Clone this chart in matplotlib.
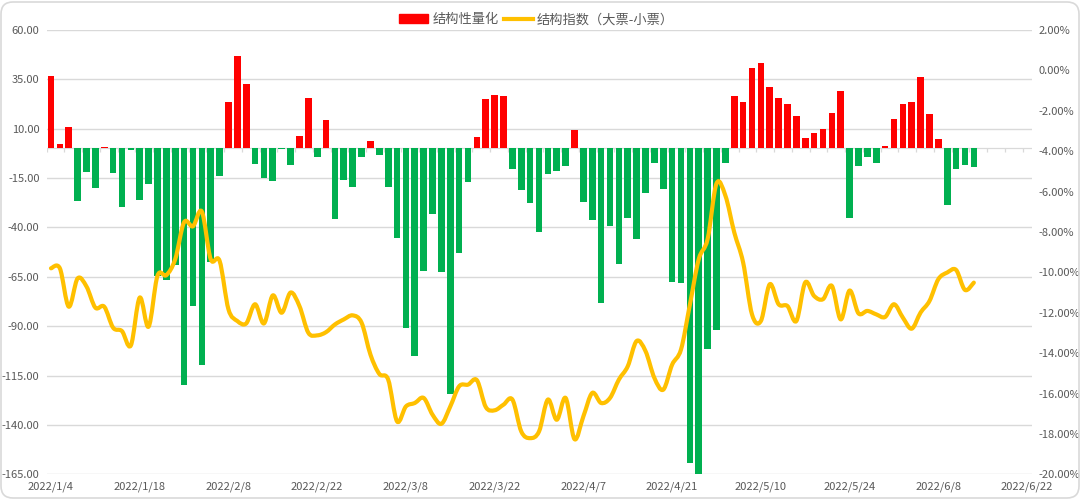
#- Bar + smoothed line combo chart: 结构性量化 vs 结构指数（大票-小票）

import numpy as np
import pandas as pd
import matplotlib
matplotlib.use('Agg')
import matplotlib.pyplot as plt
from matplotlib.path import Path
from matplotlib.patches import PathPatch, FancyBboxPatch, Patch
from matplotlib.lines import Line2D

plt.rcParams['font.family'] = ['Noto Sans CJK SC', 'DejaVu Sans']


#- Data (trading days 2022/1/4 .. 2022/6/22):

holidays = ['2022-01-31', '2022-02-01', '2022-02-02', '2022-02-03', '2022-02-04',
            '2022-04-04', '2022-04-05', '2022-05-02', '2022-05-03', '2022-05-04',
            '2022-06-03']
dates = pd.bdate_range('2022-01-04', '2022-06-22', freq='C', holidays=holidays)
date_labels = [f'{d.year}/{d.month}/{d.day}' for d in dates]

quant = [36.5, 2.5, 11.0, -26.4, -11.8, -19.9, 0.8, -12.3, -29.7, -0.7,
         -26.2, -18.1, -64.7, -66.7, -59.1, -119.9, -79.9, -109.6, -57.4, -14.0,
         23.6, 46.8, 32.4, -8.1, -15.2, -16.6, -0.3, -8.6, 6.2, 25.8,
         -4.4, 14.2, -35.8, -16.2, -19.3, -4.4, 4.0, -3.4, -19.3, -45.3,
         -91.0, -105.1, -62.0, -33.4, -62.8, -124.3, -52.9, -17.1, 5.7, 25.3,
         27.2, 26.7, -10.6, -20.9, -27.4, -42.4, -12.8, -11.5, -9.1, 9.6,
         -27.2, -36.1, -78.5, -39.4, -58.4, -35.0, -45.8, -22.8, -7.6, -20.6,
         -67.4, -68.1, -159.3, -164.9, -101.7, -91.7, -7.3, 26.7, 23.3, 40.9,
         43.1, 31.1, 25.8, 22.3, 16.6, 5.1, 7.8, 10.0, 18.2, 28.9,
         -35.0, -8.8, -4.2, -7.3, 1.5, 14.7, 22.6, 23.6, 36.1, 17.7,
         4.6, -28.4, -10.3, -8.6, -9.6]

index_pct = [-9.8, -9.8, -11.7, -10.3, -10.7, -11.75, -11.7, -12.74, -12.91, -13.62,
             -11.25, -12.69, -10.17, -10.14, -9.35, -7.52, -7.72, -6.99, -9.35, -9.43,
             -11.83, -12.41, -12.53, -11.58, -12.53, -11.14, -12.0, -11.0, -11.67, -12.99,
             -13.12, -12.96, -12.58, -12.33, -12.13, -12.49, -14.07, -15.03, -15.31, -17.38,
             -16.64, -16.47, -16.22, -17.05, -17.5, -16.64, -15.64, -15.56, -15.34, -16.67,
             -16.83, -16.55, -16.3, -17.88, -18.21, -17.88, -16.3, -17.3, -16.22, -18.26,
             -17.13, -15.97, -16.47, -16.22, -15.31, -14.65, -13.4, -13.9, -15.23, -15.81,
             -14.57, -13.82, -11.6, -9.35, -8.35, -5.6, -6.2, -8.02, -9.51, -12.08,
             -12.41, -10.59, -11.58, -11.67, -12.41, -10.5, -11.17, -11.33, -10.67, -12.33,
             -10.9, -12.03, -11.91, -12.08, -12.21, -11.58, -12.24, -12.79, -11.99, -11.42,
             -10.34, -10.01, -9.88, -10.87, -10.51]


#- Excel-style smoothed line as cubic Bezier segments:

def smooth_path(x, y):
    x = np.asarray(x, float)
    y = np.asarray(y, float)
    n = len(x)
    verts = [(x[0], y[0])]
    codes = [Path.MOVETO]
    for i in range(n - 1):
        xa, ya = (x[i - 1], y[i - 1]) if i > 0 else (x[i], y[i])
        xb, yb = (x[i + 2], y[i + 2]) if i + 2 < n else (x[i + 1], y[i + 1])
        c1 = (x[i] + (x[i + 1] - xa) / 6, y[i] + (y[i + 1] - ya) / 6)
        c2 = (x[i + 1] - (xb - x[i]) / 6, y[i + 1] - (yb - y[i]) / 6)
        verts += [c1, c2, (x[i + 1], y[i + 1])]
        codes += [Path.CURVE4] * 3
    return Path(verts, codes)


#- Figure:

RED, GREEN, GOLD, GREY, TXT = '#FF0000', '#00B050', '#FFC000', '#D9D9D9', '#595959'

fig = plt.figure(figsize=(10.8, 4.99), dpi=100)
ax = fig.add_axes([0.0431, 0.0495, 0.912, 0.8904])
ax2 = ax.twinx()

pos = np.arange(len(quant))
colors = [RED if v >= 0 else GREEN for v in quant]
ax.bar(pos, quant, width=0.75, color=colors, zorder=2)
ax.axhline(0, color=GREY, lw=0.9, zorder=1.5)
ax.vlines(np.arange(-0.5, len(dates), 2), -2.0, 0, color=GREY, lw=0.9, zorder=1.5)

ax.set_xlim(-0.5, len(dates) - 0.5)
ax.set_ylim(-165, 60)
ax.set_yticks(np.arange(-165, 61, 25))
ax.set_yticklabels([f'{v:.2f}' for v in np.arange(-165, 61, 25)])
ax.set_xticks(np.arange(0, len(dates), 10))
ax.set_xticklabels(date_labels[::10])
ax.grid(axis='y', color=GREY, lw=1.0)
ax.set_axisbelow(True)

ax2.add_patch(PathPatch(smooth_path(pos, index_pct), fill=False, edgecolor=GOLD,
                        lw=3, capstyle='round', joinstyle='round'))
ax2.set_ylim(-20, 2)
ax2.set_yticks(np.arange(-20, 2.1, 2))
ax2.set_yticklabels([f'{v:.2f}%' for v in np.arange(-20, 2.1, 2)])

for a in (ax, ax2):
    for s in a.spines.values():
        s.set_visible(False)
    a.tick_params(length=0, labelsize=8, labelcolor=TXT)
ax.tick_params(axis='y', pad=5)
ax.tick_params(axis='x', pad=5)
ax2.tick_params(axis='y', pad=5)

handles = [Patch(color=RED), Line2D([0], [0], color=GOLD, lw=3)]
fig.legend(handles, ['结构性量化', '结构指数（大票-小票）'], loc='center',
           bbox_to_anchor=(0.497, 0.96), ncol=2, frameon=False, fontsize=9.5,
           labelcolor=TXT, handlelength=2.2, handletextpad=0.3, columnspacing=0.4)

fig.patches.append(FancyBboxPatch((0.01, 0.01), 10.78, 4.96,
                                  boxstyle='round,pad=0,rounding_size=0.12',
                                  transform=fig.dpi_scale_trans, fill=False,
                                  edgecolor=GREY, lw=1.2))

plt.savefig('out.png', dpi=100)
